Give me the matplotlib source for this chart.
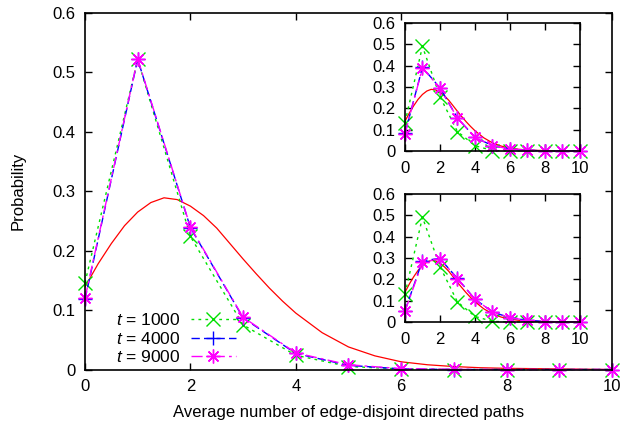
import matplotlib
matplotlib.use('Agg')
import matplotlib.pyplot as plt

plt.rcParams['font.family'] = ['Liberation Sans', 'DejaVu Sans']
plt.rcParams['mathtext.fontset'] = 'custom'
plt.rcParams['mathtext.it'] = 'Liberation Sans:italic'
plt.rcParams['mathtext.rm'] = 'Liberation Sans'

# x positions of the discrete points
k = list(range(11))

# main panel
main_1000 = [0.146, 0.522, 0.224, 0.075, 0.024, 0.005, 0.001, 0.0, 0.0, 0.0, 0.0]
main_4000 = [0.118, 0.522, 0.239, 0.087, 0.027, 0.007, 0.001, 0.0, 0.0, 0.0, 0.0]
main_9000 = [0.120, 0.523, 0.240, 0.088, 0.028, 0.008, 0.0015, 0.0002, 0.0, 0.0, 0.0]

# upper inset
top_1000 = [0.133, 0.490, 0.255, 0.091, 0.025, 0.002, 0.0, 0.0, 0.0, 0.0, 0.0]
top_4000 = [0.082, 0.392, 0.296, 0.155, 0.064, 0.025, 0.009, 0.003, 0.001, 0.0, 0.0]
top_9000 = [0.080, 0.389, 0.295, 0.154, 0.064, 0.025, 0.009, 0.003, 0.001, 0.0, 0.0]

# lower inset
bot_1000 = [0.131, 0.491, 0.260, 0.094, 0.026, 0.003, 0.0, 0.0, 0.0, 0.0, 0.0]
bot_4000 = [0.052, 0.288, 0.297, 0.204, 0.107, 0.047, 0.020, 0.008, 0.002, 0.001, 0.0]
bot_9000 = [0.050, 0.280, 0.296, 0.203, 0.107, 0.047, 0.020, 0.008, 0.002, 0.001, 0.0]

# red reference curve
curve_x = [0.0, 0.25, 0.5, 0.75, 1.0, 1.25, 1.5, 1.75, 2.0, 2.25, 2.5, 2.75, 3.0,
           3.25, 3.5, 3.75, 4.0, 4.5, 5.0, 5.5, 6.0, 6.5, 7.0, 7.5, 8.0, 9.0, 10.0]
curve_y = [0.139, 0.178, 0.212, 0.242, 0.265, 0.281, 0.289, 0.286, 0.275, 0.259,
           0.238, 0.212, 0.186, 0.161, 0.137, 0.115, 0.095, 0.062, 0.038, 0.023,
           0.013, 0.008, 0.005, 0.003, 0.002, 0.001, 0.0]

labels = ['$t$ = 1000', '$t$ = 4000', '$t$ = 9000']
styles = [dict(color='#00e000', ls=(0, (2, 3)), marker='x'),
          dict(color='#0000ff', ls=(0, (6, 3)), marker='+'),
          dict(color='#ff00ff', ls=(0, (8, 3, 2, 3)), marker=(8, 2, 0))]

FS = 12


def draw(ax, series, ms):
    ax.plot(curve_x, curve_y, color='#ff0000', lw=0.9)
    lines = []
    for vals, st, lab in zip(series, styles, labels):
        ln, = ax.plot(k, vals, color=st['color'], ls=st['ls'], marker=st['marker'],
                      ms=ms, mew=1.0, lw=1.0, label=lab, clip_on=False)
        lines.append(ln)
    ax.set_xlim(0, 10)
    ax.set_ylim(0, 0.6)
    ax.set_xticks([0, 2, 4, 6, 8, 10])
    ax.set_yticks([0, 0.1, 0.2, 0.3, 0.4, 0.5, 0.6])
    ax.set_yticklabels(['0', '0.1', '0.2', '0.3', '0.4', '0.5', '0.6'])
    ax.tick_params(direction='in', top=True, right=True, length=5, width=1,
                   labelsize=FS, pad=7)
    for s in ax.spines.values():
        s.set_linewidth(1.2)
    return lines


fig = plt.figure(figsize=(6.23, 4.24), dpi=100)
ax = fig.add_axes([0.1364, 0.1285, 0.8459, 0.8408])
lines = draw(ax, [main_1000, main_4000, main_9000], 10)
ax.set_xlabel('Average number of edge-disjoint directed paths', fontsize=FS, labelpad=8)
ax.set_ylabel('Probability', fontsize=FS, labelpad=19)
ax.legend(lines, labels, loc='lower left', bbox_to_anchor=(0.035, -0.022),
          frameon=False, markerfirst=False, fontsize=FS + 0.5, handlelength=2.6,
          labelspacing=0.15, handletextpad=0.6, borderpad=0.2)

ins1 = fig.add_axes([0.650, 0.6439, 0.2809, 0.3019])
draw(ins1, [top_1000, top_4000, top_9000], 10)
ins2 = fig.add_axes([0.650, 0.2406, 0.2809, 0.3019])
draw(ins2, [bot_1000, bot_4000, bot_9000], 10)

fig.savefig('out.png', dpi=100)
